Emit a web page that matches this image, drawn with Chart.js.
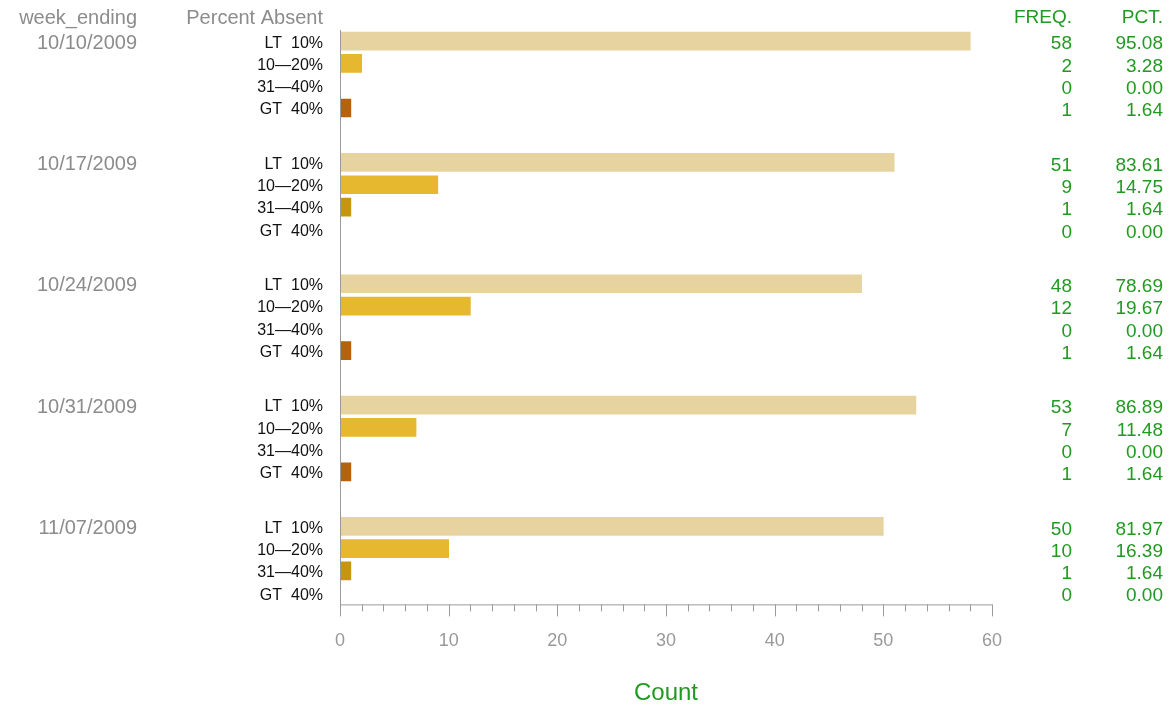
<!DOCTYPE html>
<html>
<head>
<meta charset="utf-8">
<script src="https://cdn.jsdelivr.net/npm/chart.js@4.4.0/dist/chart.umd.min.js"></script>
<style>
  html, body { margin: 0; padding: 0; background: #fff; }
  #wrap { width: 1170px; height: 708px; position: relative; }
</style>
</head>
<body>
<div id="wrap"><canvas id="chart"></canvas></div>
<script>
// data
const weeks = ['10/10/2009', '10/17/2009', '10/24/2009', '10/31/2009', '11/07/2009'];
const absentCats = ['LT  10%', '10\u201420%', '31\u201440%', 'GT  40%'];
const freqLT10 = [58, 51, 48, 53, 50];
const freq10to20 = [2, 9, 12, 7, 10];
const freq31to40 = [0, 1, 0, 0, 1];
const freqGT40 = [1, 0, 1, 1, 0];
const pctLT10 = ['95.08', '83.61', '78.69', '86.89', '81.97'];
const pct10to20 = ['3.28', '14.75', '19.67', '11.48', '16.39'];
const pct31to40 = ['0.00', '1.64', '0.00', '0.00', '1.64'];
const pctGT40 = ['1.64', '0.00', '1.64', '1.64', '0.00'];
const xTicks = [0, 10, 20, 30, 40, 50, 60];

const freqs = [freqLT10, freq10to20, freq31to40, freqGT40];
const pcts = [pctLT10, pct10to20, pct31to40, pctGT40];
const colors = ['#e6d3a0', '#e6b830', '#c8960c', '#b5620a'];

// rows inside a group are 1 unit apart, groups are GROUP_STEP units apart
const GROUP_STEP = 5.44;
const rowPos = (g, r) => g * GROUP_STEP + r;

const datasets = freqs.map((arr, r) => ({
  label: absentCats[r],
  data: arr.map((v, g) => ({ x: v, y: rowPos(g, r) })),
  backgroundColor: colors[r],
  borderWidth: 0,
  barThickness: 18,
  grouped: false
}));

const GRAY = '#8c8c8c';
const GREEN = '#229a22';
const FONT = '"Liberation Sans", Arial, sans-serif';

const sidePlugin = {
  id: 'side',
  afterDraw(chart) {
    const ctx = chart.ctx;
    const xs = chart.scales.x, ys = chart.scales.y;
    const area = chart.chartArea;
    ctx.save();

    // axis lines
    ctx.strokeStyle = '#9a9a9a';
    ctx.lineWidth = 1;
    ctx.beginPath();
    ctx.moveTo(area.left + 0.5, area.top);
    ctx.lineTo(area.left + 0.5, area.bottom);
    ctx.moveTo(area.left, area.bottom + 0.5);
    ctx.lineTo(area.right, area.bottom + 0.5);
    ctx.stroke();
    // tick marks: major every 10, minor every 2
    for (let v = 0; v <= 60; v += 2) {
      const px = Math.round(xs.getPixelForValue(v)) + 0.5;
      const len = v % 10 === 0 ? 12 : 7;
      ctx.beginPath();
      ctx.moveTo(px, area.bottom);
      ctx.lineTo(px, area.bottom + len);
      ctx.stroke();
    }

    ctx.textBaseline = 'middle';
    // axis title
    ctx.textAlign = 'center';
    ctx.font = '24px ' + FONT;
    ctx.fillStyle = GREEN;
    ctx.fillText('Count', (area.left + area.right) / 2, 693);

    // headers
    ctx.textAlign = 'right';
    ctx.font = '20px ' + FONT;
    ctx.fillStyle = GRAY;
    ctx.fillText('week_ending', 137, 18);
    ctx.fillText('Percent Absent', 323, 18);
    ctx.font = '19px ' + FONT;
    ctx.fillStyle = GREEN;
    ctx.fillText('FREQ.', 1072, 18);
    ctx.fillText('PCT.', 1163, 18);

    weeks.forEach((w, g) => {
      const y0 = ys.getPixelForValue(rowPos(g, 0));
      ctx.font = '20px ' + FONT;
      ctx.fillStyle = GRAY;
      ctx.fillText(w, 137, y0 + 2);
      absentCats.forEach((c, r) => {
        const y = ys.getPixelForValue(rowPos(g, r));
        ctx.font = '16px ' + FONT;
        ctx.fillStyle = '#111';
        ctx.fillText(c, 323, y + 2);
        ctx.font = '19px ' + FONT;
        ctx.fillStyle = GREEN;
        ctx.fillText(String(freqs[r][g]), 1072, y + 3);
        ctx.fillText(pcts[r][g], 1163, y + 3);
      });
    });
    ctx.restore();
  }
};

new Chart(document.getElementById('chart'), {
  type: 'bar',
  data: { datasets },
  options: {
    indexAxis: 'y',
    responsive: true,
    maintainAspectRatio: false,
    animation: false,
    layout: { padding: { left: 340, right: 178, top: 30, bottom: 30 } },
    plugins: { legend: { display: false }, tooltip: { enabled: false } },
    scales: {
      x: {
        type: 'linear',
        min: 0,
        max: 60,
        grid: { display: false, drawTicks: false },
        border: { display: false },
        afterBuildTicks(scale) { scale.ticks = xTicks.map(v => ({ value: v })); },
        ticks: {
          padding: 26,
          color: '#999',
          font: { family: FONT, size: 18 }
        }
      },
      y: {
        type: 'linear',
        display: false,
        offset: false,
        reverse: true,
        min: -0.5,
        max: rowPos(4, 3) + 0.5
      }
    }
  },
  plugins: [sidePlugin]
});
</script>
</body>
</html>
